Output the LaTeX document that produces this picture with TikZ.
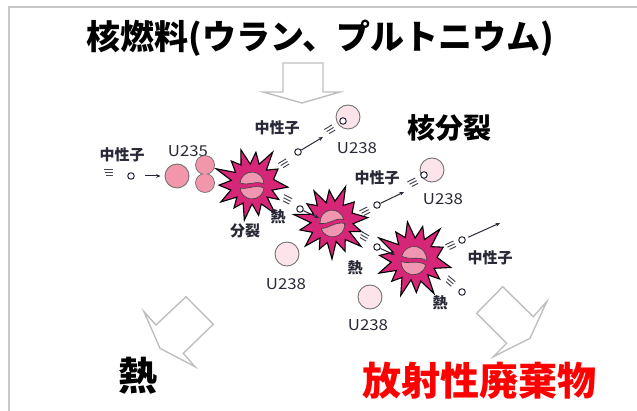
\documentclass[tikz,border=0pt]{standalone}
\usepackage{fontspec}
\usetikzlibrary{arrows.meta}
\newfontfamily\jp{Noto Sans CJK JP}

\definecolor{burstpink}{RGB}{214,38,120}
\definecolor{nucA}{RGB}{242,150,172}
\definecolor{nucB}{RGB}{253,228,234}
\definecolor{corepink}{RGB}{240,150,176}
\definecolor{ink}{RGB}{40,40,55}
\definecolor{framegray}{RGB}{200,200,200}
\definecolor{arrowgray}{RGB}{190,190,190}

\newcommand\motion[3]{%
  \begin{scope}[shift={(#1,#2)},rotate=#3]
    \draw[speedline] (-6,-3)--(3,-3) (-5,0)--(3,0) (-4,3)--(3,3);
  \end{scope}}

\tikzset{
  frameline/.style={draw=framegray, line width=2.6pt},
  fatarrow/.style={draw=arrowgray, line width=1.4pt, line join=miter},
  lbl/.style={font=\jp\bfseries\fontsize{15}{15}\selectfont, text=ink, inner sep=0},
  ulbl/.style={font=\jp\fontsize{15}{15}\selectfont, text=ink, inner sep=0, xscale=1.12},
  bigtxt/.style={font=\jp\bfseries\fontsize{#1}{#1}\selectfont, inner sep=0},
  neutron/.style={circle, draw=ink, fill=white, line width=1pt, minimum size=6.5pt, inner sep=0},
  nucleusA/.style={circle, draw=black!55, fill=nucA, line width=0.9pt, minimum size=24pt, inner sep=0},
  nucleusB/.style={circle, draw=black!55, fill=nucB, line width=0.9pt, minimum size=24pt, inner sep=0},
  narrow/.style={draw=ink, line width=1pt, -{Stealth[length=4.5pt,width=3.8pt]}},
  speedline/.style={draw=ink!85, line width=1pt},
  piece/.style={draw=black!75, fill=corepink, line width=0.6pt},
  burst/.pic={
    \coordinate (-c) at (0,0);
    \draw[fill=burstpink, draw=black, line width=1.1pt, line join=miter]
      (5:36) -- (17:21) -- (30:31) -- (41:20) -- (52:38) -- (65:22) -- (78:32)
      -- (90:20) -- (102:37) -- (115:21) -- (127:30) -- (139:20) -- (150:36)
      -- (164:22) -- (178:33) -- (190:21) -- (203:39) -- (215:20) -- (228:31)
      -- (240:22) -- (252:36) -- (265:20) -- (277:32) -- (290:21) -- (303:38)
      -- (316:20) -- (330:30) -- (348:22) -- cycle;
    \draw[piece] (-12,-1) arc[start angle=185, end angle=360, radius=12]
      .. controls (5,-4) and (-3,2) .. cycle;
    \draw[piece] (12,4) arc[start angle=5, end angle=175, radius=12]
      .. controls (-5,6) and (3,0) .. cycle;
  }
}

\begin{document}
\begin{tikzpicture}[x=1pt,y=-1pt]
\useasboundingbox (0,0) rectangle (637,411);

% frame lines along the top and left
\draw[frameline] (9,411) -- (9,7) -- (637,7);

% headings
\node[bigtxt=34] (title) at (320,38) {核燃料(ウラン、プルトニウム)};
\node[bigtxt=28] (fission) at (449,128) {核分裂};
\node[bigtxt=39] (heat) at (138,376) {熱};
\node[bigtxt=39, text=red] (waste) at (479,381) {放射性廃棄物};

% hollow block arrows
\draw[fatarrow] (283,63) -- (323,63) -- (323,92) -- (340,92) -- (302,103)
  -- (263,92) -- (283,92) -- cycle;
\draw[fatarrow] (186,296.7) -- (213.3,324.3) -- (183.3,353.3) -- (195,366.7)
  -- (160,348.3) -- (144,311.7) -- (156,325) -- cycle;
\draw[fatarrow] (502.7,286.7) -- (476.7,313.3) -- (506.7,343.3) -- (493.3,356.7)
  -- (530,338.3) -- (546.7,301.7) -- (533.3,316.7) -- cycle;

% incoming neutron and U235
\node[lbl] (l0) at (122,155) {中性子};
\node[ulbl] (lu235) at (188,151) {U235};
\motion{110}{173}{0}
\node[neutron] (n0) at (131,176) {};
\node[nucleusA] (u235) at (177,176) {};
\draw[narrow, shorten <=10pt, shorten >=4pt] (n0) -- (u235);
% splitting nucleus
\fill[black!55] (205,165) circle[radius=9.9] (205,183) circle[radius=9.9];
\fill[nucA] (205,165) circle[radius=9] (205,183) circle[radius=9];

% fission bursts
\pic (b1) at (252,184) {burst};
\pic[rotate=12] (b2) at (332,222) {burst};
\pic[rotate=-8, scale=1.05] (b3) at (414,259) {burst};

% U238 nuclei
\node[nucleusB] (u1) at (348,117) {};
\node[nucleusB] (u2) at (432,170) {};
\node[nucleusB] (u3) at (287,254) {};
\node[nucleusB] (u4) at (370,297) {};

% burst 1: neutron up to U238
\motion{285}{163}{31}
\node[neutron] (n1) at (298,152) {};
\coordinate (a1) at (323,137);
\draw[narrow] (n1) -- (a1);
\motion{331}{129}{31}
\node[neutron] (n1b) at (343,121) {};
% burst 1: neutron down to burst 2
\motion{288}{200}{-27}
\node[neutron] (n2) at (300,209) {};
\coordinate (a2) at (319,218);
\draw[narrow] (n2) -- (a2);

% burst 2: neutron up to U238
\motion{366}{211}{27}
\node[neutron] (n3) at (377,205) {};
\coordinate (a3) at (404,192);
\draw[narrow] (n3) -- (a3);
\motion{414}{182}{27}
\node[neutron] (n3b) at (424,175) {};
% burst 2: neutron down to burst 3
\motion{365}{237}{-30}
\node[neutron] (n4) at (377,247) {};
\coordinate (a4) at (395,255);
\draw[narrow] (n4) -- (a4);

% burst 3: neutrons outward
\motion{452}{245}{25}
\node[neutron] (n5) at (462,240) {};
\coordinate (a5) at (500,223);
\draw[narrow, shorten <=3pt] (n5) -- (a5);
\motion{451}{282}{-40}
\node[neutron] (n6) at (462,292) {};

% small labels
\node[lbl] (l1) at (277,128) {中性子};
\node[ulbl] (lu1) at (357,148) {U238};
\node[lbl] (l2) at (377,178) {中性子};
\node[ulbl] (lu2) at (443,199) {U238};
\node[lbl] (split) at (245,231) {分裂};
\node[lbl] (h1) at (278,217) {熱};
\node[lbl] (h2) at (355,268) {熱};
\node[ulbl] (lu3) at (286,284) {U238};
\node[lbl] (l3) at (490,258) {中性子};
\node[lbl] (h3) at (440,303) {熱};
\node[ulbl] (lu4) at (368,325) {U238};
\end{tikzpicture}
\end{document}
